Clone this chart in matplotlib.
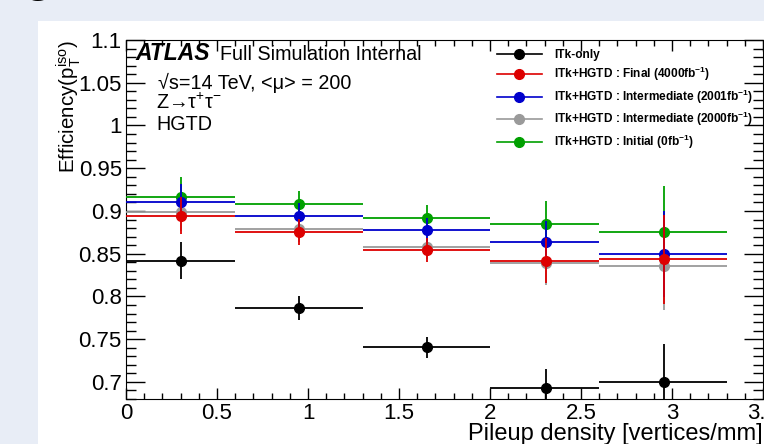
import matplotlib as mpl
import matplotlib.pyplot as plt
from matplotlib.lines import Line2D
from matplotlib.patches import Rectangle
from matplotlib.ticker import MultipleLocator
import numpy as np

mpl.rcParams['font.family'] = ['Liberation Sans', 'DejaVu Sans']
mpl.rcParams['mathtext.fontset'] = 'custom'
mpl.rcParams['mathtext.rm'] = 'Liberation Sans'
mpl.rcParams['mathtext.it'] = 'Liberation Sans:italic'
mpl.rcParams['mathtext.default'] = 'regular'

# pileup density bins (edges) and mean position of each bin
bin_lo = [0.0, 0.6, 1.3, 2.0, 2.6]
bin_hi = [0.6, 1.3, 2.0, 2.6, 3.3]
bin_mean = [0.30, 0.95, 1.655, 2.305, 2.955]

labels = ['ITk-only',
          'ITk+HGTD : Final (4000fb$^{-1}$)',
          'ITk+HGTD : Intermediate (2001fb$^{-1}$)',
          'ITk+HGTD : Intermediate (2000fb$^{-1}$)',
          'ITk+HGTD : Initial (0fb$^{-1}$)']
colors = ['black', '#dd0000', '#0000cc', '#9a9a9a', '#00a000']

eff_itk = [0.842, 0.787, 0.7405, 0.693, 0.700]
err_itk = [0.022, 0.014, 0.012, 0.022, 0.044]
eff_final = [0.8945, 0.8754, 0.8543, 0.842, 0.8435]
err_final = [0.022, 0.015, 0.014, 0.026, 0.052]
eff_int2001 = [0.910, 0.894, 0.8777, 0.8637, 0.8496]
err_int2001 = [0.022, 0.015, 0.014, 0.025, 0.050]
eff_int2000 = [0.8985, 0.879, 0.8582, 0.839, 0.8356]
err_int2000 = [0.022, 0.015, 0.014, 0.026, 0.052]
eff_init = [0.916, 0.9078, 0.8914, 0.8847, 0.875]
err_init = [0.024, 0.015, 0.015, 0.027, 0.054]

series = [eff_itk, eff_final, eff_int2001, eff_int2000, eff_init]
errors = [err_itk, err_final, err_int2001, err_int2000, err_init]
zorders = [3, 7, 6, 4, 5]

fig = plt.figure(figsize=(7.64, 4.44), dpi=100)
fig.patch.set_facecolor('#e8edf6')
fig.patches.append(Rectangle((38 / 764, 0), 1, 1 - 21 / 444, transform=fig.transFigure,
                             facecolor='white', edgecolor='none', zorder=-5))
fig.text(23 / 764, 1 + 11 / 444, 'g', fontsize=40, color='black', va='baseline')

ax = fig.add_axes([126 / 764, 1 - 399 / 444, 637 / 764, 359 / 444])

x = np.array(bin_mean)
xerr = [x - np.array(bin_lo), np.array(bin_hi) - x]
for vals, errs, c, z in zip(series, errors, colors, zorders):
    ax.errorbar(x, vals, yerr=errs, xerr=xerr, fmt='o', color=c, ms=7,
                elinewidth=1.3, capsize=0, zorder=z, clip_on=True)

ax.set_xlim(0, 3.5)
ax.set_ylim(0.68, 1.1)
ax.xaxis.set_major_locator(MultipleLocator(0.5))
ax.xaxis.set_minor_locator(MultipleLocator(0.1))
ax.yaxis.set_major_locator(MultipleLocator(0.05))
ax.yaxis.set_minor_locator(MultipleLocator(0.01))
ax.xaxis.set_major_formatter(mpl.ticker.FuncFormatter(lambda v, p: f'{v:g}'))
ax.yaxis.set_major_formatter(mpl.ticker.FuncFormatter(lambda v, p: f'{v:g}'))
ax.tick_params(which='both', direction='in', top=True, right=True, labelsize=16, width=1)
ax.tick_params(axis='x', which='major', length=8, pad=3)
ax.tick_params(axis='x', which='minor', length=4.3)
ax.tick_params(axis='y', which='major', length=13.7, pad=3)
ax.tick_params(axis='y', which='minor', length=7)

ax.set_xlabel('Pileup density [vertices/mm]', fontsize=17, loc='right')
ax.xaxis.set_label_coords(1.0, -0.066)
ax.xaxis.label.set_va('top')
ax.set_ylabel(r'Efficiency($p_{T}^{iso}$)', fontsize=14.8, loc='top')
ax.yaxis.set_label_coords(-0.068, 1.0)

ax.text(0.015, 0.944, 'ATLAS', transform=ax.transAxes, fontsize=16.5, fontweight='bold',
        style='italic', va='baseline')
ax.text(0.148, 0.944, 'Full Simulation Internal', transform=ax.transAxes, fontsize=14.2,
        va='baseline')
ax.text(0.05, 0.863, '\u221as=14 TeV, <\u03bc> = 200', transform=ax.transAxes, fontsize=14.2,
        va='baseline')
ax.text(0.047, 0.807, 'Z\u2192\u03c4$^{+}$\u03c4$^{-}$', transform=ax.transAxes, fontsize=14.2,
        va='baseline')
ax.text(0.048, 0.749, 'HGTD', transform=ax.transAxes, fontsize=14.2, va='baseline')

handles = [Line2D([], [], color=c, marker='o', ms=7, lw=1.2) for c in colors]
leg = ax.legend(handles, labels, loc='upper left', bbox_to_anchor=(0.565, 1.005),
                frameon=False, handlelength=3.8, handletextpad=1.0, labelspacing=0.36,
                prop={'size': 8.6, 'weight': 'bold'})

fig.savefig('out.png', dpi=100, facecolor=fig.get_facecolor())
